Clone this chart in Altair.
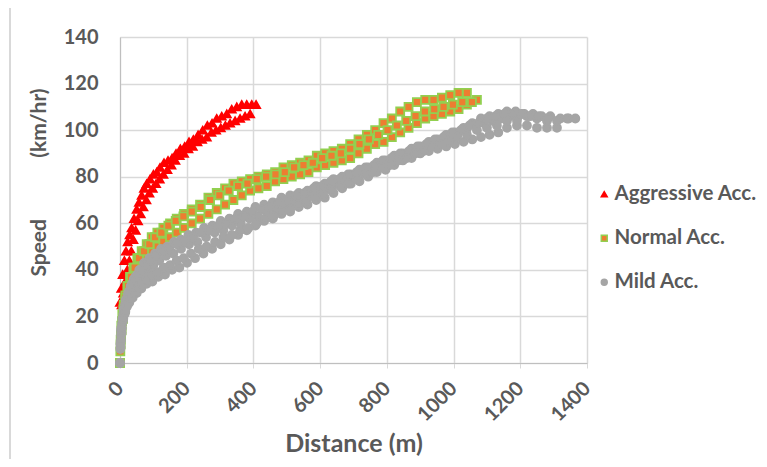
import altair as alt
import pandas as pd

# ---------------- data ----------------
series_names = ["Aggressive Acc.", "Normal Acc.", "Mild Acc."]

aggr_dist_1 = [0, 4, 8, 13, 18, 23, 29, 35, 42, 50, 57, 65, 72, 80, 90, 100, 110, 120, 132, 144,
               156, 168, 181, 194, 207, 220, 234, 248, 262, 276, 290, 305, 320, 335, 350, 365, 380, 395, 408]
aggr_speed_1 = [26, 32, 38, 44, 48, 52, 55, 58, 62, 66, 69, 72, 75, 77, 79, 81, 82, 84, 86, 87,
                88, 90, 92, 93, 95, 96, 98, 100, 102, 103, 105, 106, 107, 109, 110, 111, 111, 111, 111]
aggr_dist_2 = [5, 10, 16, 22, 28, 34, 40, 47, 54, 62, 70, 79, 88, 98, 108, 119, 130, 142, 154, 166,
               179, 192, 205, 218, 232, 246, 260, 274, 288, 302, 316, 330, 345, 360, 375, 390]
aggr_speed_2 = [25, 30, 35, 40, 44, 48, 53, 57, 61, 64, 67, 70, 73, 75, 77, 79, 81, 83, 85, 87,
                89, 90, 92, 93, 95, 96, 97, 99, 100, 101, 102, 103, 104, 105, 106, 107]

norm_dist_1 = [0, 1, 2, 4, 7, 11, 16, 22, 30, 40, 52, 65, 80, 95, 112, 130, 150, 170, 192, 215,
               240, 265, 290, 315, 340, 365, 390, 415, 440, 465, 490, 515, 540, 565, 590, 615, 640, 665, 690, 715,
               740, 765, 790, 815, 840, 865, 890, 915, 940, 965, 990, 1015, 1040]
norm_speed_1 = [0, 5, 10, 16, 21, 25, 29, 33, 37, 41, 45, 48, 51, 54, 56, 58, 60, 62, 64, 66,
                68, 71, 73, 75, 77, 78, 79, 80, 81, 82, 84, 85, 86, 87, 89, 90, 91, 92, 94, 96,
                98, 100, 103, 105, 108, 110, 112, 113, 113, 114, 115, 116, 116]
norm_dist_2 = [0, 2, 5, 9, 14, 20, 27, 35, 45, 56, 68, 82, 97, 113, 130, 150, 170, 192, 215, 240,
               265, 290, 315, 340, 365, 390, 415, 440, 465, 490, 515, 540, 565, 590, 615, 640, 665, 690, 715, 740,
               765, 790, 815, 840, 865, 890, 915, 940, 965, 990, 1015, 1040, 1070]
norm_speed_2 = [0, 8, 14, 19, 23, 27, 30, 33, 36, 39, 42, 45, 48, 50, 52, 54, 56, 58, 60, 62,
                64, 66, 68, 70, 72, 74, 75, 76, 78, 79, 80, 81, 82, 84, 85, 86, 87, 88, 90, 92,
                94, 95, 97, 99, 101, 103, 105, 106, 107, 108, 109, 111, 113]
norm_dist_3 = [3, 6, 10, 16, 24, 33, 44, 57, 72, 88, 105, 124, 145, 167, 190, 215, 242, 270, 298, 326,
               354, 382, 410, 438, 466, 494, 522, 550, 578, 606, 634, 662, 690, 718, 746, 774, 802, 830, 858, 886,
               914, 942, 970, 998, 1026, 1055]
norm_speed_3 = [12, 18, 23, 28, 33, 37, 41, 45, 48, 51, 54, 56, 59, 61, 63, 65, 67, 70, 72, 74,
                76, 77, 79, 80, 81, 82, 84, 85, 86, 88, 89, 90, 92, 94, 96, 98, 100, 102, 104, 106,
                108, 109, 110, 111, 112, 112]

mild_dist_1 = [0, 1, 3, 6, 10, 15, 21, 28, 36, 46, 58, 72, 88, 105, 123, 142, 162, 183, 205, 228,
               252, 277, 302, 328, 354, 380, 406, 432, 458, 484, 510, 536, 562, 588, 614, 640, 666, 692, 718, 744,
               770, 796, 822, 848, 874, 900, 926, 952, 978, 1004, 1030, 1056, 1082, 1108, 1134, 1160, 1186, 1212,
               1238, 1264, 1290, 1320, 1345, 1365]
mild_speed_1 = [0, 6, 12, 17, 21, 25, 28, 31, 34, 37, 40, 43, 45, 47, 49, 50, 52, 53, 55, 56,
                58, 59, 61, 62, 64, 65, 67, 68, 69, 71, 72, 73, 74, 76, 77, 79, 80, 81, 83, 84,
                86, 87, 89, 90, 92, 93, 95, 96, 98, 99, 101, 103, 105, 106, 107, 108, 108, 107,
                107, 106, 106, 105, 105, 105]
mild_dist_2 = [0, 2, 5, 9, 14, 20, 28, 38, 50, 64, 80, 97, 115, 135, 156, 178, 201, 225, 250, 276,
               302, 328, 354, 380, 406, 432, 458, 484, 510, 536, 562, 588, 614, 640, 666, 692, 718, 744, 770, 796,
               822, 848, 874, 900, 926, 952, 978, 1004, 1030, 1056, 1082, 1108, 1134, 1160, 1190, 1220, 1250, 1280, 1310]
mild_speed_2 = [0, 7, 13, 18, 21, 24, 26, 28, 30, 32, 34, 35, 37, 38, 40, 41, 43, 45, 47, 49,
                51, 53, 55, 57, 59, 61, 62, 64, 65, 67, 68, 70, 71, 73, 75, 77, 78, 80, 82, 83,
                85, 87, 88, 90, 91, 92, 93, 94, 95, 96, 97, 98, 99, 101, 102, 102, 101, 101, 101]
mild_dist_3 = [0, 2, 4, 8, 12, 18, 25, 33, 43, 55, 68, 83, 100, 118, 138, 160, 183, 207, 232, 258,
               284, 310, 336, 362, 388, 414, 440, 466, 492, 518, 544, 570, 596, 622, 648, 674, 700, 726, 752, 778,
               804, 830, 856, 882, 908, 934, 960, 986, 1012, 1038, 1064, 1090, 1116, 1142, 1168, 1194, 1220, 1250, 1280]
mild_speed_3 = [0, 9, 15, 19, 23, 26, 29, 32, 34, 36, 38, 40, 42, 44, 46, 47, 49, 51, 52, 54,
                56, 57, 59, 60, 62, 63, 65, 66, 68, 69, 71, 72, 74, 75, 77, 78, 80, 82, 83, 85,
                86, 88, 89, 91, 92, 94, 95, 97, 98, 100, 102, 103, 104, 105, 106, 106, 106, 105, 104]
mild_dist_4 = [1, 3, 7, 11, 17, 24, 32, 41, 52, 64, 78, 93, 110, 128, 148, 170, 193, 217, 242, 268,
               294, 320, 346, 372, 398, 424, 450, 476, 502, 528, 554, 580, 606, 632, 658, 684, 710, 736, 762, 788,
               814, 840, 866, 892, 918, 944, 970, 996, 1022, 1048, 1074, 1100, 1126, 1152, 1178, 1204, 1230, 1256,
               1282, 1310, 1340]
mild_speed_4 = [8, 14, 19, 23, 27, 30, 33, 36, 38, 40, 42, 44, 46, 48, 49, 51, 52, 54, 56, 57,
                59, 60, 62, 63, 65, 66, 67, 69, 70, 72, 73, 75, 76, 78, 79, 81, 82, 84, 85, 87,
                88, 90, 91, 93, 94, 96, 97, 99, 100, 102, 103, 105, 106, 107, 107, 107, 106, 106,
                105, 104, 105]
mild_dist_5 = [3, 6, 10, 16, 23, 31, 41, 53, 66, 80, 96, 113, 131, 150, 170, 191, 213, 236, 260, 285,
               310, 335, 360, 385, 410, 435, 460, 485, 510, 535, 560, 585, 610, 635, 660, 685, 710, 735, 760, 785,
               810, 835, 860, 885, 910, 935, 960, 985, 1010, 1040, 1070, 1100, 1130, 1160, 1190]
mild_speed_5 = [10, 15, 19, 22, 25, 28, 30, 32, 34, 36, 38, 39, 41, 42, 44, 45, 47, 49, 50, 52,
                54, 55, 57, 58, 60, 62, 63, 65, 66, 68, 69, 71, 72, 74, 76, 77, 79, 81, 82, 84,
                85, 87, 88, 90, 91, 93, 94, 95, 97, 98, 100, 101, 102, 104, 104]

x_ticks = [0, 200, 400, 600, 800, 1000, 1200, 1400]
y_ticks = [0, 20, 40, 60, 80, 100, 120, 140]

# ---------------- table ----------------
traces = [
    (series_names[0], aggr_dist_1, aggr_speed_1),
    (series_names[0], aggr_dist_2, aggr_speed_2),
    (series_names[1], norm_dist_1, norm_speed_1),
    (series_names[1], norm_dist_2, norm_speed_2),
    (series_names[1], norm_dist_3, norm_speed_3),
    (series_names[2], mild_dist_1, mild_speed_1),
    (series_names[2], mild_dist_2, mild_speed_2),
    (series_names[2], mild_dist_3, mild_speed_3),
    (series_names[2], mild_dist_4, mild_speed_4),
    (series_names[2], mild_dist_5, mild_speed_5),
]
frames = [pd.DataFrame({"series": s, "distance": d, "speed": v}) for s, d, v in traces]
df = pd.concat(frames, ignore_index=True)

FONT = "Lato"
TXT = "#595959"
GRID = "#d9d9d9"

LEG = dict(title=None, orient="none", legendX=474, legendY=147,
           labelFont=FONT, labelFontSize=20.5, labelFontWeight="bold",
           labelColor=TXT, rowPadding=23, symbolStrokeWidth=1.5,
           symbolSize=35, labelOffset=0)

y_title = "Speed" + "\u00a0" * 12 + "(km/hr)"

points = alt.Chart(df).mark_point(filled=True, opacity=1, strokeWidth=1.8, size=64).encode(
    x=alt.X("distance:Q",
            scale=alt.Scale(domain=[0, 1400], nice=False),
            axis=alt.Axis(values=x_ticks, format="d", title="Distance (m)", labelAngle=-45,
                          labelAlign="right", labelBaseline="middle",
                          labelPadding=17, tickSize=5, tickColor=GRID,
                          domainColor="#bfbfbf", gridColor=GRID, titlePadding=7,
                          titleFontSize=25)),
    y=alt.Y("speed:Q",
            scale=alt.Scale(domain=[0, 140], nice=False),
            axis=alt.Axis(values=y_ticks, format="d", title=y_title,
                          tickSize=0, labelPadding=22, domainColor="#bfbfbf",
                          gridColor=GRID, titlePadding=14, titleFontSize=21, titleY=145)),
    shape=alt.Shape("series:N",
                    scale=alt.Scale(domain=series_names, range=["triangle-up", "square", "circle"]),
                    legend=alt.Legend(**LEG)),
    fill=alt.Fill("series:N",
                  scale=alt.Scale(domain=series_names, range=["#FF0000", "#ED7D31", "#A5A5A5"]),
                  legend=alt.Legend(**LEG)),
    stroke=alt.Stroke("series:N",
                      scale=alt.Scale(domain=series_names, range=["#FF0000", "#92D050", "#A5A5A5"]),
                      legend=alt.Legend(**LEG)),
)

border = alt.Chart(pd.DataFrame({"k": [0]})).mark_rule(color=GRID, strokeWidth=2).encode(
    x=alt.value(-110), y=alt.value(-30), y2=alt.value(500))
border_top = alt.Chart(pd.DataFrame({"k": [0]})).mark_rule(color=GRID, strokeWidth=2).encode(
    x=alt.value(-110), x2=alt.value(700), y=alt.value(-30))

chart = alt.layer(border, border_top, points).properties(
    width=467, height=326,
    autosize=alt.AutoSizeParams(type="none"),
    padding={"left": 112, "top": 29, "right": 172, "bottom": 96},
).configure_axis(
    labelFont=FONT, labelFontSize=20, labelFontWeight="bold", labelColor=TXT,
    titleFont=FONT, titleFontWeight="bold", titleColor=TXT,
    gridWidth=1.5,
).configure_view(stroke=None)

chart.save("out.html", embed_options={"renderer": "svg", "actions": False})
